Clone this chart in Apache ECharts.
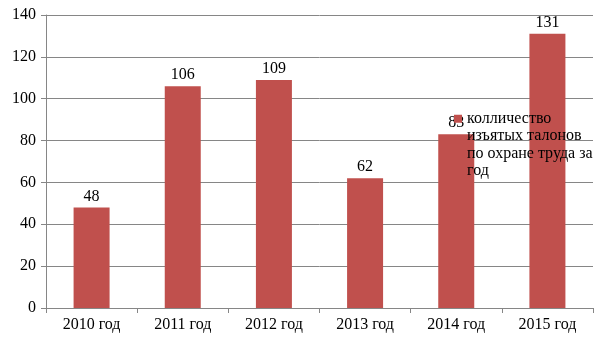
<!DOCTYPE html>
<html>
<head>
<meta charset="utf-8">
<script src="https://cdn.jsdelivr.net/npm/echarts@6/dist/echarts.min.js"></script>
<style>
  html, body { margin: 0; padding: 0; background: #fff; }
  #chart { width: 605px; height: 340px; }
</style>
</head>
<body>
<div id="chart"></div>
<script>
// Years on the category axis
const categories = ['2010 год', '2011 год', '2012 год', '2013 год', '2014 год', '2015 год'];
// Number of withdrawn safety coupons per year
const values = [48, 106, 109, 62, 83, 131];
const seriesName = 'колличество\nизъятых талонов\nпо охране труда за\nгод';
const yMin = 0, yMax = 140, yStep = 20;

const chart = echarts.init(document.getElementById('chart'), null, { renderer: 'canvas' });
const gridColor = '#868686';
const font = 'Liberation Serif';

chart.setOption({
  animation: false,
  grid: { left: 46, right: 12, top: 15, bottom: 32, containLabel: false },
  legend: {
    data: [seriesName],
    left: 454,
    top: 57.5,
    padding: 0,
    itemWidth: 8,
    itemHeight: 8,
    itemGap: 0,
    icon: 'rect',
    // blank leading lines keep the marker level with the first text line
    formatter: name => '\n\n\n' + name,
    textStyle: {
      fontFamily: font,
      fontSize: 16,
      lineHeight: 17.5,
      color: '#000'
    }
  },
  xAxis: {
    type: 'category',
    data: categories,
    boundaryGap: true,
    axisLine: { lineStyle: { color: gridColor, width: 1 } },
    axisTick: { show: true, length: 5, lineStyle: { color: gridColor } },
    axisLabel: { fontFamily: font, fontSize: 16, color: '#000', margin: 9 }
  },
  yAxis: {
    type: 'value',
    min: yMin, max: yMax, interval: yStep,
    axisLine: { show: true, lineStyle: { color: gridColor, width: 1 } },
    axisTick: { show: true, length: 5, lineStyle: { color: gridColor } },
    axisLabel: { fontFamily: font, fontSize: 16, color: '#000', margin: 10 },
    splitLine: { show: true, lineStyle: { color: gridColor, width: 1 } }
  },
  series: [{
    name: seriesName,
    type: 'bar',
    data: values,
    barWidth: 36,
    itemStyle: { color: '#C0504D' },
    label: {
      show: true,
      position: 'top',
      distance: 3,
      fontFamily: font,
      fontSize: 16,
      color: '#000'
    }
  }]
});
</script>
</body>
</html>
